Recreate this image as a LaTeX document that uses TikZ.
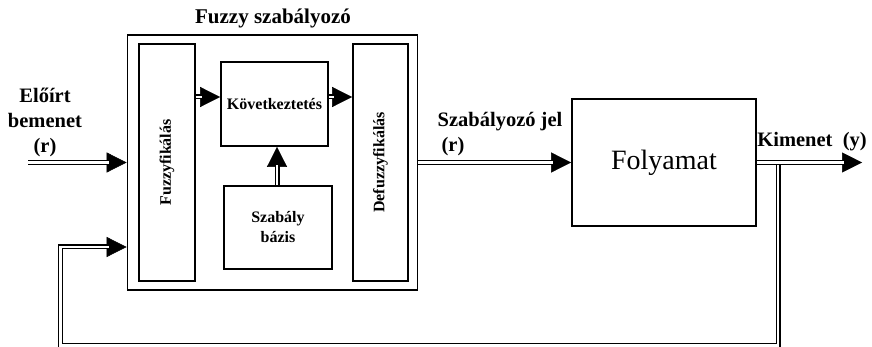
\documentclass[tikz,border=0pt]{standalone}
\usepackage{fontspec}
\setmainfont{Liberation Serif}
\usetikzlibrary{arrows.meta}

\tikzset{
  box/.style={draw, line width=1.7pt, inner sep=0pt, rectangle},
  lbl/.style={font=\fontsize{20.5}{25}\selectfont\bfseries, inner sep=0pt, align=center},
  titlelbl/.style={font=\fontsize{21}{25}\selectfont\bfseries, inner sep=0pt},
  inlbl/.style={font=\fontsize{16}{20}\selectfont\bfseries, inner sep=0pt, align=center},
  tipline/.style={line width=0.5pt, -{Triangle[length=20pt 0 0,width=20pt 0 0]}},
  dbl/.style={double=white, double distance=2.4pt, line width=1.3pt, shorten >=18pt}
}

\begin{document}
\begin{tikzpicture}[x=1pt, y=-1pt]
  \useasboundingbox (0,0) rectangle (872,347);
  \clip (0,0) rectangle (872,347);

  % controller block and its inner stages
  \node[box, minimum width=290pt, minimum height=255pt] (ctrl) at (272.5,162.5) {};
  \node[box, minimum width=56pt, minimum height=237pt] (fuzz) at (167,162.5) {};
  \node[inlbl, rotate=90] (fuzzt) at (fuzz.center) {Fuzzyfikálás};
  \node[box, minimum width=107pt, minimum height=84pt, inlbl] (kov) at (274.5,104) {Következtetés};
  \node[box, minimum width=108pt, minimum height=83pt, inlbl] (szab) at (278,227.5) {Szabály\\bázis};
  \node[box, minimum width=55pt, minimum height=237pt] (defuzz) at (380.5,162.5) {};
  \node[inlbl, rotate=90] (defuzzt) at (defuzz.center) {Defuzzyfikálás};

  % plant
  \node[box, minimum width=184pt, minimum height=127pt,
        font=\fontsize{28}{32}\selectfont, inner sep=0pt] (fol) at (664,162.5) {Folyamat};

  % labels
  \node[titlelbl] (title) at (273,18) {Fuzzy szabályozó};
  \node[lbl] (inlab) at (45,122) {Előírt\\bemenet\\(r)};
  \node[lbl] (ujel) at (500,122) {Szabályozó jel};
  \node[lbl] (ur) at (453,147) {(r)};
  \node[lbl] (ylab) at (812,142) {Kimenet\ \ (y)};

  % free ends and routing points
  \coordinate (rin) at (28,162.5);
  \coordinate (yout) at (862,162.5);
  \coordinate (tap) at (778,162.5);
  \coordinate (fbl) at (60.5,345.5);
  \coordinate (fbt) at (60.5,247);
  \coordinate (k1) at ([yshift=7pt]kov.west);
  \coordinate (k2) at ([yshift=7pt]kov.east);

  % input
  \draw[tipline] (rin) -- (ctrl.west);
  \draw[dbl] (rin) -- (ctrl.west);

  % feedback loop
  \draw[tipline] (tap) |- (fbl) -- (fbt) -- (ctrl.west |- fbt);
  \draw[dbl] (tap) |- (fbl) -- (fbt) -- (ctrl.west |- fbt);

  % inner signal flow
  \draw[tipline] (fuzz.east |- k1) -- (k1);
  \draw[dbl] (fuzz.east |- k1) -- (k1);
  \draw[tipline] (k2) -- (defuzz.west |- k2);
  \draw[dbl] (k2) -- (defuzz.west |- k2);
  \draw[tipline] (szab.north -| 277,0) -- (kov.south -| 277,0);
  \draw[dbl] (szab.north -| 277,0) -- (kov.south -| 277,0);

  % controller output to plant
  \draw[tipline] (ctrl.east) -- (fol.west);
  \draw[dbl] (ctrl.east) -- (fol.west);

  % plant output
  \draw[tipline] (fol.east) -- (yout);
  \draw[dbl] (fol.east) -- (yout);
\end{tikzpicture}
\end{document}
